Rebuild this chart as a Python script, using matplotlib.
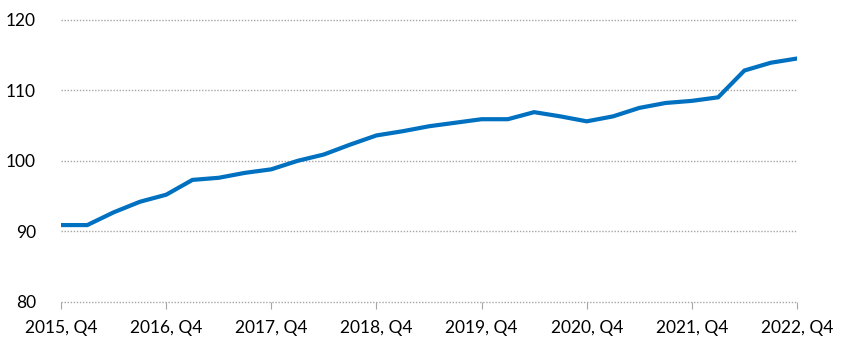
import matplotlib.pyplot as plt

# quarterly index values, 2015 Q4 .. 2022 Q4
quarters = list(range(29))
values = [90.9, 90.9, 92.7, 94.2, 95.2, 97.3, 97.6, 98.3, 98.8, 100.0,
          100.9, 102.3, 103.6, 104.2, 104.9, 105.4, 105.9, 105.9, 106.9, 106.3,
          105.6, 106.3, 107.5, 108.2, 108.5, 109.0, 112.8, 113.9, 114.5]
tick_pos = [0, 4, 8, 12, 16, 20, 24, 28]
tick_labels = ["2015, Q4", "2016, Q4", "2017, Q4", "2018, Q4",
               "2019, Q4", "2020, Q4", "2021, Q4", "2022, Q4"]
y_ticks = [80, 90, 100, 110, 120]

plt.rcParams['font.family'] = ['Lato', 'DejaVu Sans']

fig = plt.figure(figsize=(8.54, 3.61), dpi=100)
ax = fig.add_axes([61 / 854, 59 / 361, 736 / 854, 282.3 / 361])

ax.plot(quarters, values, color="#0070C0", lw=3, solid_joinstyle="miter", zorder=3)

ax.set_xlim(0, 28)
ax.set_ylim(80, 120)
ax.set_yticks(y_ticks)
ax.set_xticks(tick_pos)
ax.set_xticklabels(tick_labels)

for s in ax.spines.values():
    s.set_visible(False)
ax.grid(axis="y", color="#A6A6A6", linestyle=(0, (1, 1.2)), lw=1.0, clip_on=False)
ax.tick_params(axis="y", length=0, pad=18, labelsize=12.5, labelcolor="#000000")
ax.tick_params(axis="x", length=5, color="#A6A6A6", pad=8, labelsize=12.5)

fig.savefig("out.png", dpi=100)
